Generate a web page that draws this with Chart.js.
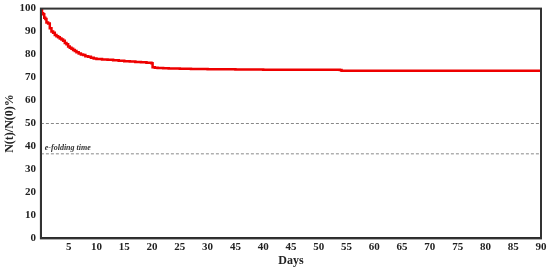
<!DOCTYPE html>
<html>
<head>
    <meta charset="utf-8">
    <title>N(t)/N(0)</title>
    <script src="https://cdn.jsdelivr.net/npm/chart.js"></script>
    <style>
        body {
            margin: 0;
            background-color: #ffffff;
        }
        .chart-container {
            width: 550px;
            height: 268px;
        }
    </style>
</head>
<body>
<div class="chart-container">
    <canvas id="decay_chart" width="550" height="268"></canvas>
</div>

<script>
// survival curve
const days = [0, 0.2, 0.4, 0.6, 0.8, 1.0, 1.3, 1.6, 1.9, 2.2, 2.5, 2.8, 3.1, 3.4, 3.7, 4.0,
    4.3, 4.6, 4.9, 5.2, 5.5, 5.8, 6.1, 6.4, 6.8, 7.2, 7.6, 8.0, 8.5, 9.0, 9.5, 10,
    11, 12, 13, 14, 15, 16, 17, 18, 19, 19.9, 20.1, 20.5, 21, 22, 23, 25, 27, 30,
    35, 40, 45, 50, 53.8, 54.1, 60, 70, 80, 90];
const remaining = [99.5, 98, 97.5, 96, 95.5, 94, 93.5, 91.5, 90, 89.5, 88.5, 88, 87.5, 87, 86.5, 86,
    85, 84.5, 83.5, 83, 82.5, 82, 81.5, 81, 80.5, 80, 79.8, 79.3, 79, 78.6, 78.3, 78.1,
    77.9, 77.7, 77.5, 77.3, 77.1, 77, 76.8, 76.6, 76.4, 76.2, 74.5, 74.3, 74.2, 74, 73.9, 73.8, 73.7, 73.6,
    73.5, 73.4, 73.4, 73.4, 73.3, 73.0, 73, 73, 73, 73];

const halfLevel = 50;
const eFoldLevel = 36.8;
const xTickLabels = ['', '5', '10', '15', '20', '25', '30', '45', '40', '45', '50',
    '55', '60', '65', '70', '75', '80', '85', '90'];

const serif = "'Liberation Serif', 'Times New Roman', serif";

const framePlugin = {
    id: 'frame',
    afterDraw(chart) {
        const { ctx, chartArea, scales } = chart;
        ctx.save();
        ctx.strokeStyle = '#333333';
        ctx.lineWidth = 2;
        ctx.strokeRect(chartArea.left, chartArea.top, chartArea.right - chartArea.left, chartArea.bottom - chartArea.top);
        // label on the e-folding line
        ctx.fillStyle = '#333333';
        ctx.font = 'italic bold 8px ' + serif;
        ctx.textBaseline = 'bottom';
        ctx.fillText('e-folding time', scales.x.getPixelForValue(0.7), scales.y.getPixelForValue(eFoldLevel) - 2);
        ctx.restore();
    }
};

const ctx = document.getElementById('decay_chart').getContext('2d');
new Chart(ctx, {
    type: 'line',
    data: {
        datasets: [{
            data: days.map((d, i) => ({ x: d, y: remaining[i] })),
            borderColor: '#ee0000',
            borderWidth: 2.5,
            pointRadius: 0,
            stepped: true,
            order: 1
        }, {
            data: [{ x: 0, y: halfLevel }, { x: 90, y: halfLevel }],
            borderColor: '#888888',
            borderWidth: 1,
            borderDash: [3, 2],
            pointRadius: 0,
            order: 2
        }, {
            data: [{ x: 0, y: eFoldLevel }, { x: 90, y: eFoldLevel }],
            borderColor: '#888888',
            borderWidth: 1,
            borderDash: [3, 2],
            pointRadius: 0,
            order: 2
        }]
    },
    options: {
        responsive: false,
        animation: false,
        layout: {
            padding: { top: 7, right: 9, left: 3, bottom: 0 }
        },
        scales: {
            x: {
                type: 'linear',
                min: 0,
                max: 90,
                grid: { display: false, drawTicks: true, tickLength: 2 },
                border: { display: true, color: '#222', width: 2 },
                ticks: {
                    stepSize: 5,
                    autoSkip: false,
                    maxRotation: 0,
                    padding: 0,
                    color: '#222',
                    font: { family: serif, size: 11, weight: 'bold' },
                    callback: (v, i) => xTickLabels[i]
                },
                title: {
                    display: true,
                    text: 'Days',
                    color: '#222',
                    padding: { top: 0, bottom: 0 },
                    font: { family: serif, size: 12, weight: 'bold' }
                }
            },
            y: {
                min: 0,
                max: 100,
                grid: { display: false, drawTicks: true, tickLength: 3 },
                border: { display: true, color: '#222', width: 2 },
                ticks: {
                    stepSize: 10,
                    padding: 2,
                    color: '#222',
                    font: { family: serif, size: 11, weight: 'bold' }
                },
                title: {
                    display: true,
                    text: 'N(t)/N(0)%',
                    color: '#222',
                    padding: { top: 0, bottom: 0 },
                    font: { family: serif, size: 12, weight: 'bold' }
                }
            }
        },
        plugins: {
            legend: { display: false },
            tooltip: { enabled: false }
        }
    },
    plugins: [framePlugin]
});
</script>

</body>
</html>
